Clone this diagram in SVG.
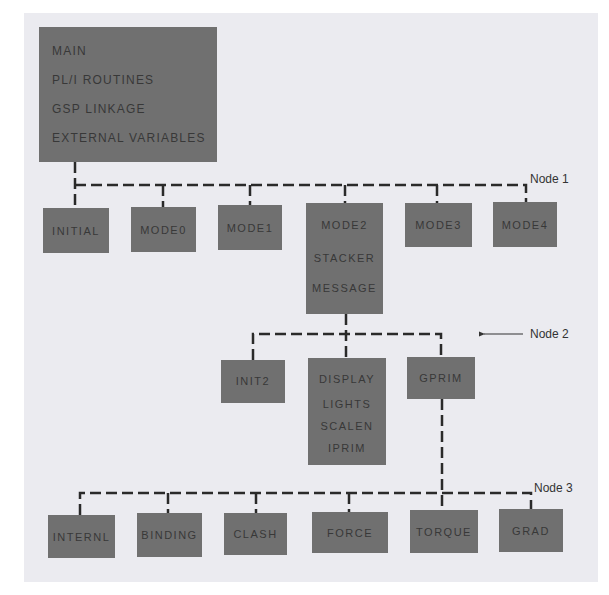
<svg xmlns="http://www.w3.org/2000/svg" width="609" height="595" viewBox="0 0 609 595">
<style>
.box{fill:#707070;}
.t{font-family:"Liberation Sans",Arial,sans-serif;font-size:11px;fill:#383838;letter-spacing:1.5px;text-anchor:middle;}
.tm{font-family:"Liberation Sans",Arial,sans-serif;font-size:12px;fill:#383838;letter-spacing:1.2px;}
.lbl{font-family:"Liberation Sans",Arial,sans-serif;font-size:12px;fill:#333;}
.dash{fill:none;stroke:#2a2a2a;stroke-width:2.5;stroke-dasharray:11 5;}
</style>
<defs>
<marker id="ah" markerWidth="6" markerHeight="6" refX="1" refY="3" orient="auto-start-reverse" markerUnits="userSpaceOnUse">
<path d="M0,3 L6,0.5 L6,5.5 Z" fill="#333"/>
</marker>
</defs>
<rect x="0" y="0" width="609" height="595" fill="#ffffff"/>
<rect x="24" y="13" width="574" height="569" fill="#ebebf0"/>

<g id="connectors">
<path class="dash" d="M75,162 V208"/>
<path class="dash" d="M75,185 H526 V202"/>
<path class="dash" d="M163,185 V207"/>
<path class="dash" d="M250,185 V205"/>
<path class="dash" d="M345,185 V203"/>
<path class="dash" d="M437,185 V203"/>
<path class="dash" d="M346,314 V358"/>
<path class="dash" d="M253,360 V334 H441 V357"/>
<path class="dash" d="M442,399 V510"/>
<path class="dash" d="M80,515 V493 H531 V509"/>
<path class="dash" d="M168,493 V513"/>
<path class="dash" d="M256,493 V513"/>
<path class="dash" d="M349,493 V512"/>
<path d="M484,334 H523" stroke="#333" stroke-width="1.2" fill="none" marker-start="url(#ah)"/>
<text class="lbl" x="530" y="183">Node 1</text>
<text class="lbl" x="530" y="338">Node 2</text>
<text class="lbl" x="534" y="492">Node 3</text>
</g>

<g id="main">
<rect class="box" x="39" y="27" width="178" height="135"/>
<text class="tm" x="52" y="54.5">MAIN</text>
<text class="tm" x="52" y="83.5">PL/I ROUTINES</text>
<text class="tm" x="52" y="112.5">GSP LINKAGE</text>
<text class="tm" x="52" y="141.5">EXTERNAL VARIABLES</text>
</g>

<g id="initial"><rect class="box" x="43" y="208" width="66" height="45"/><text class="t" x="76" y="234.5">INITIAL</text></g>
<g id="mode0"><rect class="box" x="131" y="207" width="65" height="45"/><text class="t" x="163.5" y="233.5">MODE0</text></g>
<g id="mode1"><rect class="box" x="218" y="205" width="64" height="45"/><text class="t" x="250" y="231.5">MODE1</text></g>
<g id="mode2">
<rect class="box" x="306" y="203" width="77" height="111"/>
<text class="t" x="344.5" y="229">MODE2</text>
<text class="t" x="344.5" y="262">STACKER</text>
<text class="t" x="344.5" y="292">MESSAGE</text>
</g>
<g id="mode3"><rect class="box" x="405" y="203" width="67" height="44"/><text class="t" x="438.5" y="229">MODE3</text></g>
<g id="mode4"><rect class="box" x="493" y="202" width="64" height="45"/><text class="t" x="525" y="228.5">MODE4</text></g>

<g id="init2"><rect class="box" x="221" y="360" width="64" height="43"/><text class="t" x="253" y="385">INIT2</text></g>
<g id="display">
<rect class="box" x="308" y="358" width="78" height="107"/>
<text class="t" x="347" y="383">DISPLAY</text>
<text class="t" x="347" y="408">LIGHTS</text>
<text class="t" x="347" y="430">SCALEN</text>
<text class="t" x="347" y="452">IPRIM</text>
</g>
<g id="gprim"><rect class="box" x="407" y="357" width="68" height="42"/><text class="t" x="441" y="382">GPRIM</text></g>

<g id="internl"><rect class="box" x="48" y="515" width="67" height="43"/><text class="t" x="81.5" y="540.5">INTERNL</text></g>
<g id="binding"><rect class="box" x="137" y="513" width="65" height="44"/><text class="t" x="169.5" y="539">BINDING</text></g>
<g id="clash"><rect class="box" x="224" y="513" width="63" height="42"/><text class="t" x="255.5" y="538">CLASH</text></g>
<g id="force"><rect class="box" x="312" y="512" width="76" height="41"/><text class="t" x="350" y="536.5">FORCE</text></g>
<g id="torque"><rect class="box" x="410" y="510" width="68" height="43"/><text class="t" x="444" y="535.5">TORQUE</text></g>
<g id="grad"><rect class="box" x="499" y="509" width="64" height="43"/><text class="t" x="531" y="534.5">GRAD</text></g>
</svg>
